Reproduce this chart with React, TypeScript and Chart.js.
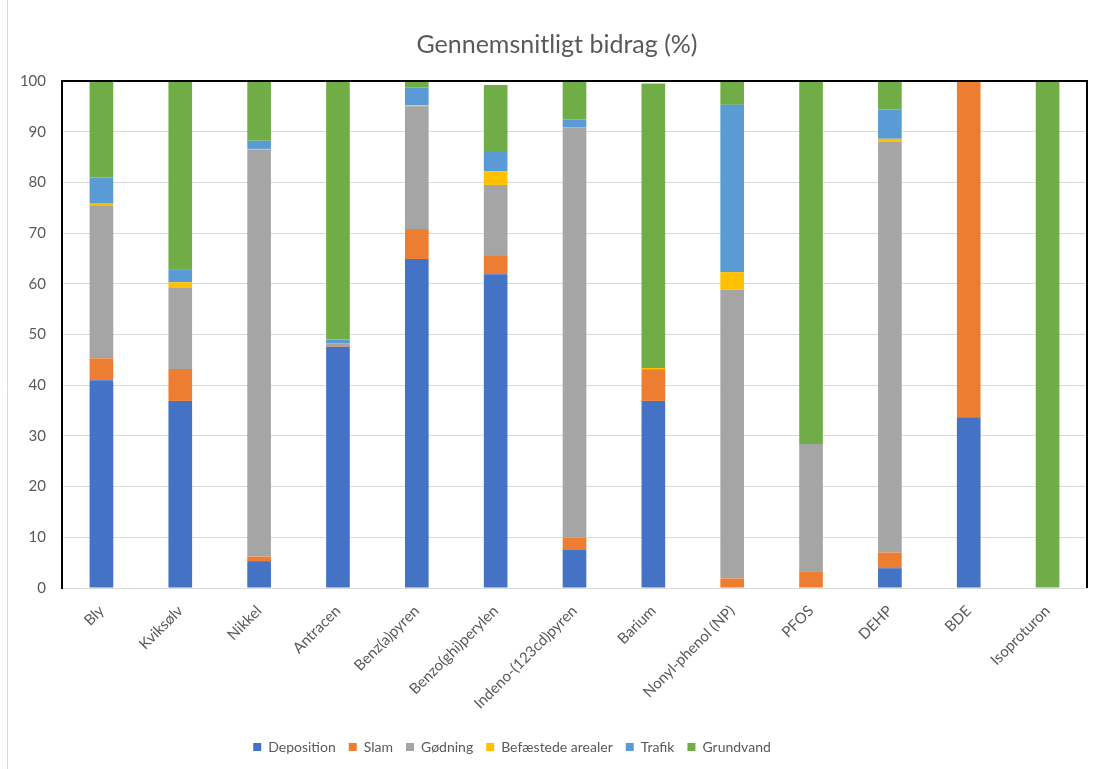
import React, { useEffect, useRef } from "react";
import { Chart, registerables } from "chart.js";

Chart.register(...registerables);

const categories = [
  "Bly",
  "Kviksølv",
  "Nikkel",
  "Antracen",
  "Benz(a)pyren",
  "Benzo(ghi)perylen",
  "Indeno-(123cd)pyren",
  "Barium",
  "Nonyl-phenol (NP)",
  "PFOS",
  "DEHP",
  "BDE",
  "Isoproturon",
];

const deposition = [41.0, 36.9, 5.3, 47.6, 64.9, 61.9, 7.5, 36.9, 0, 0, 3.9, 33.7, 0];
const slam = [4.3, 6.3, 0.9, 0.3, 5.9, 3.6, 2.4, 6.1, 1.9, 3.3, 3.1, 66.1, 0];
const goedning = [30.2, 16.0, 80.2, 0.3, 24.2, 14.0, 81.0, 0.2, 57.0, 25.1, 81.0, 0, 0];
const befaestede = [0.3, 1.1, 0.2, 0, 0.2, 2.7, 0, 0.2, 3.4, 0, 0.6, 0, 0];
const trafik = [5.2, 2.6, 1.6, 0.8, 3.5, 3.8, 1.5, 0, 33.0, 0, 5.8, 0, 0];
const grundvand = [19.0, 37.1, 11.8, 51.0, 1.3, 13.2, 7.4, 56.1, 4.5, 71.6, 5.6, 0, 100];

const yTicks = [0, 10, 20, 30, 40, 50, 60, 70, 80, 90, 100];

const seriesNames = ["Deposition", "Slam", "Gødning", "Befæstede arealer", "Trafik", "Grundvand"];
const seriesColors = ["#4472C4", "#ED7D31", "#A5A5A5", "#FFC000", "#5B9BD5", "#70AD47"];
const seriesValues = [deposition, slam, goedning, befaestede, trafik, grundvand];

const FONT = "Lato, 'Open Sans', 'Liberation Sans', sans-serif";
const TEXT = "#595959";

function centerBox(box: any, cx: number) {
  if (!box) return;
  const dx = cx - (box.left + box.right) / 2;
  box.left += dx;
  box.right += dx;
}

export default function App() {
  const ref = useRef<HTMLCanvasElement | null>(null);

  useEffect(() => {
    if (!ref.current) return;

    const framePlugin = {
      id: "frame",
      beforeDraw(chart: any) {
        const ctx = chart.ctx;
        ctx.save();
        ctx.strokeStyle = "#d9d9d9";
        ctx.lineWidth = 1;
        ctx.beginPath();
        ctx.moveTo(7.5, 0);
        ctx.lineTo(7.5, chart.height);
        ctx.stroke();
        ctx.restore();
      },
      afterLayout(chart: any) {
        centerBox(chart.legend, 512);
        centerBox(chart.titleBlock, 557);
      },
      afterDraw(chart: any) {
        const { ctx, chartArea } = chart;
        ctx.save();
        ctx.strokeStyle = "#000000";
        ctx.lineWidth = 2;
        ctx.beginPath();
        ctx.moveTo(chartArea.left, chartArea.top);
        ctx.lineTo(chartArea.right, chartArea.top);
        ctx.lineTo(chartArea.right, chartArea.bottom);
        ctx.stroke();
        ctx.restore();
      },
    };

    const chart = new Chart(ref.current, {
      type: "bar",
      data: {
        labels: categories,
        datasets: seriesNames.map((name, i) => ({
          label: name,
          data: seriesValues[i],
          backgroundColor: seriesColors[i],
          borderWidth: 0,
          categoryPercentage: 1,
          barPercentage: 0.3,
        })),
      },
      options: {
        responsive: false,
        animation: false,
        events: [],
        layout: { padding: { left: 7, right: 6, top: 0, bottom: 5 } },
        plugins: {
          tooltip: { enabled: false },
          title: {
            display: true,
            text: "Gennemsnitligt bidrag (%)",
            color: TEXT,
            font: { family: FONT, size: 25, weight: "normal" },
            padding: { top: 30, bottom: 21 },
          },
          legend: {
            position: "bottom",
            labels: {
              color: TEXT,
              font: { family: FONT, size: 14 },
              boxWidth: 8,
              boxHeight: 8,
              padding: 13,
            },
          },
        },
        scales: {
          x: {
            stacked: true,
            grid: { display: false, drawTicks: false },
            border: { color: "#d9d9d9", width: 1 },
            ticks: {
              color: TEXT,
              font: { family: FONT, size: 15 },
              minRotation: 45,
              maxRotation: 45,
              autoSkip: false,
              padding: 14,
            },
            afterFit(scale: any) {
              scale.height = 139;
            },
          },
          y: {
            stacked: true,
            min: 0,
            max: 100,
            grid: { color: "#d9d9d9", drawTicks: false },
            border: { color: "#000000", width: 2 },
            ticks: {
              color: TEXT,
              font: { family: FONT, size: 15 },
              stepSize: 10,
              padding: 16,
              callback: (v: any) => (yTicks.includes(Number(v)) ? String(v) : ""),
            },
            afterFit(scale: any) {
              scale.width = 55;
            },
          },
        },
      },
      plugins: [framePlugin],
    });

    return () => chart.destroy();
  }, []);

  return (
    <div style={{ position: "absolute", left: 0, top: 0, width: 1093, height: 769, background: "#ffffff" }}>
      <canvas ref={ref} width={1093} height={769} style={{ display: "block" }} />
    </div>
  );
}
